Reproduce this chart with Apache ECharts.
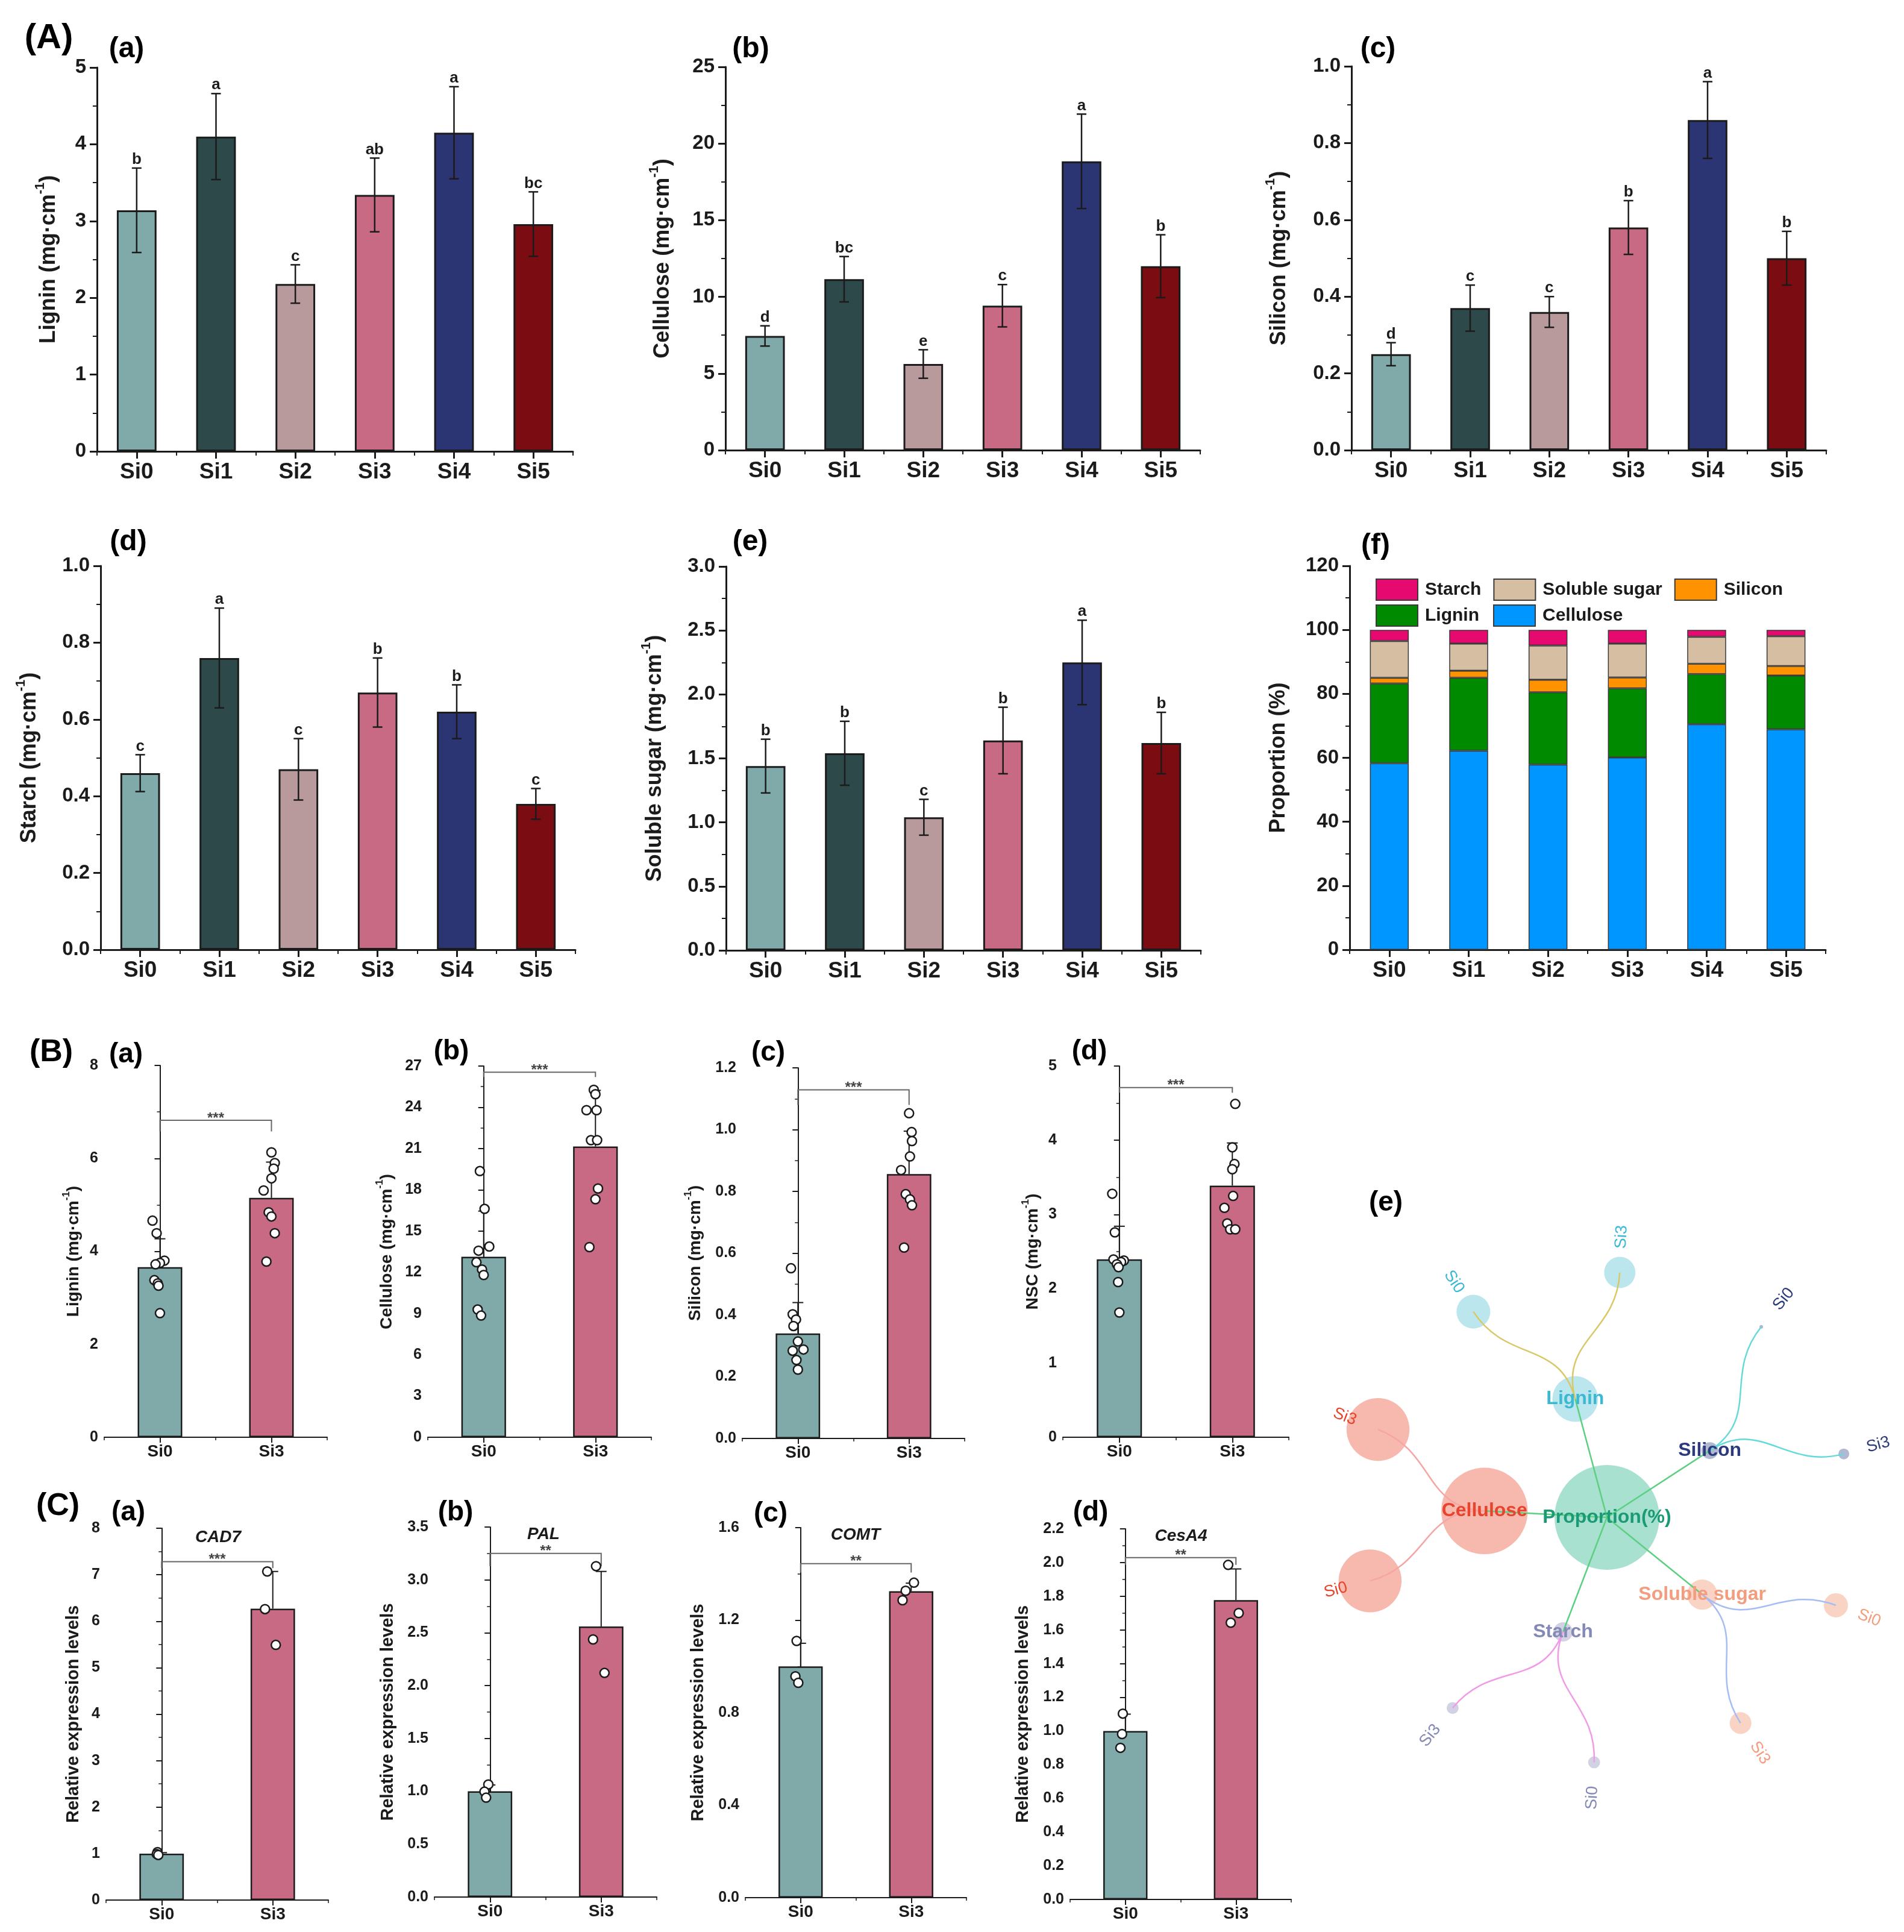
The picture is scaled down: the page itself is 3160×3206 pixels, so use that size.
<!DOCTYPE html>
<html>
<head>
<meta charset="utf-8">
<script src="https://cdn.jsdelivr.net/npm/echarts@6/dist/echarts.min.js"></script>
<style>html,body{margin:0;padding:0;background:#fff}#c{width:3160px;height:3206px}</style>
</head>
<body>
<div id="c"></div>
<script>
// ================= DATA =================
const groupsA = ['Si0', 'Si1', 'Si2', 'Si3', 'Si4', 'Si5'];
const ligninMean = [3.14, 4.10, 2.18, 3.34, 4.15, 2.96];
const ligninSD = [0.55, 0.56, 0.25, 0.48, 0.60, 0.42];
const ligninSig = ['b', 'a', 'c', 'ab', 'a', 'bc'];
const celluloseMean = [7.45, 11.15, 5.62, 9.42, 18.84, 12.0];
const celluloseSD = [0.66, 1.48, 0.93, 1.38, 3.08, 2.05];
const celluloseSig = ['d', 'bc', 'e', 'c', 'a', 'b'];
const siliconMean = [0.25, 0.37, 0.36, 0.58, 0.86, 0.50];
const siliconSD = [0.03, 0.06, 0.04, 0.07, 0.10, 0.07];
const siliconSig = ['d', 'c', 'c', 'b', 'a', 'b'];
const starchMean = [0.46, 0.76, 0.47, 0.67, 0.62, 0.38];
const starchSD = [0.048, 0.13, 0.08, 0.09, 0.07, 0.04];
const starchSig = ['c', 'a', 'c', 'b', 'b', 'c'];
const sugarMean = [1.44, 1.54, 1.04, 1.64, 2.25, 1.62];
const sugarSD = [0.21, 0.25, 0.14, 0.26, 0.33, 0.24];
const sugarSig = ['b', 'b', 'c', 'b', 'a', 'b'];

const propCellulose = [58.3, 62.2, 57.9, 60.1, 70.5, 68.9];
const propLignin = [24.9, 22.8, 22.6, 21.6, 15.7, 16.8];
const propSilicon = [1.8, 2.2, 3.9, 3.4, 3.2, 3.0];
const propSugar = [11.5, 8.5, 10.7, 10.6, 8.4, 9.3];
const propStarch = [3.5, 4.3, 4.9, 4.3, 2.2, 2.0];

const groupsB = ['Si0', 'Si3'];
const bLigninMean = [3.66, 5.15];
const bLigninSD = [0.61, 0.77];
const bLigninSi0 = [4.66, 4.39, 3.80, 3.75, 3.72, 3.38, 3.31, 3.26, 2.67];
const bLigninSi3 = [6.13, 5.90, 5.78, 5.57, 5.31, 4.84, 4.75, 4.39, 3.78];
const bLigninJit0 = [-0.067, -0.03, 0.04, 0, -0.04, -0.05, -0.02, -0.013, 0];
const bLigninJit3 = [0, 0.03, 0.02, 0, -0.07, -0.025, 0, 0.03, -0.045];
const bCelluloseMean = [13.13, 21.15];
const bCelluloseSD = [3.32, 4.08];
const bCelluloseSi0 = [19.36, 16.61, 13.87, 13.57, 12.73, 12.2, 11.8, 9.29, 8.85];
const bCelluloseSi3 = [25.27, 24.95, 23.79, 23.79, 21.61, 21.61, 18.09, 17.31, 13.83];
const bCelluloseJit0 = [-0.034, 0.008, 0.05, -0.046, -0.065, -0.015, 0, -0.054, -0.023];
const bCelluloseJit3 = [-0.015, 0, -0.08, 0.01, -0.04, 0.015, 0.023, 0, -0.054];
const bSiliconMean = [0.340, 0.856];
const bSiliconSD = [0.10, 0.139];
const bSiliconSi0 = [0.551, 0.402, 0.385, 0.364, 0.314, 0.288, 0.284, 0.254, 0.223];
const bSiliconSi3 = [1.053, 0.992, 0.963, 0.913, 0.869, 0.791, 0.774, 0.755, 0.618];
const bSiliconJit0 = [-0.062, -0.047, -0.017, -0.04, 0, 0.05, -0.047, -0.013, 0];
const bSiliconJit3 = [0, 0.023, 0.026, 0.008, -0.072, -0.03, 0.008, 0.026, -0.045];
const bNSCMean = [2.396, 3.389];
const bNSCSD = [0.446, 0.575];
const bNSCSi0 = [3.28, 2.76, 2.395, 2.38, 2.36, 2.33, 2.29, 2.09, 1.68];
const bNSCSi3 = [4.49, 3.905, 3.68, 3.61, 3.25, 3.09, 2.88, 2.80, 2.80];
const bNSCJit0 = [-0.063, -0.04, -0.052, 0.04, 0.015, -0.022, -0.007, -0.011, 0];
const bNSCJit3 = [0.026, 0, 0.019, 0, 0.007, -0.07, -0.045, -0.019, 0.026];

const cCAD7Mean = [1.00, 6.27];
const cCAD7SD = [0.02, 0.80];
const cCAD7Si0 = [1.03, 0.99, 0.97];
const cCAD7Si3 = [7.07, 6.26, 5.49];
const cCAD7Jit0 = [-0.037, -0.044, -0.03];
const cCAD7Jit3 = [-0.05, -0.07, 0.027];
const cPALMean = [1.00, 2.56];
const cPALSD = [0.06, 0.52];
const cPALSi0 = [1.065, 0.997, 0.94];
const cPALSi3 = [3.13, 2.437, 2.12];
const cPALJit0 = [-0.015, -0.05, -0.035];
const cPALJit3 = [-0.046, -0.073, 0.03];
const cCOMTMean = [1.00, 1.325];
const cCOMTSD = [0.10, 0.035];
const cCOMTSi0 = [1.11, 0.957, 0.929];
const cCOMTSi3 = [1.362, 1.327, 1.286];
const cCOMTJit0 = [-0.036, -0.047, -0.021];
const cCOMTJit3 = [0.025, -0.05, -0.078];
const cCesA4Mean = [1.00, 1.777];
const cCesA4SD = [0.10, 0.185];
const cCesA4Si0 = [1.103, 0.982, 0.90];
const cCesA4Si3 = [1.986, 1.70, 1.643];
const cCesA4Jit0 = [-0.023, -0.03, -0.045];
const cCesA4Jit3 = [-0.07, 0.025, -0.047];

const sigB = ['***', '***', '***', '***'];
const sigC = ['***', '**', '**', '**'];
const bracketB = [[6.82, 6.58], [26.55, 26.2], [1.129, 1.08], [4.71, 4.64]];
const bracketC = [[7.28, 7.14], [3.25, 3.13], [1.444, 1.406], [2.029, 1.986]];
const geneNames = ['CAD7', 'PAL', 'COMT', 'CesA4'];

const netRootName = 'Proportion(%)';
const netRootSize = 100;
const netBranchNames = ['Lignin', 'Silicon', 'Soluble sugar', 'Starch', 'Cellulose'];
const netBranchSize = [19, 2.6, 8.3, 3.4, 68];
const netLeafNames = ['Si0', 'Si3'];
const netLeafSize = [[10.4, 8.9], [0.12, 1.07], [5.3, 4.3], [1.3, 1.3], [36, 36]];

// ================= STYLE =================
const FONT = "'Liberation Sans', Arial, Helvetica, sans-serif";
const INK = '#1b1b1b';
const barColorsA = ['#80a9a9', '#2e4949', '#b89a9c', '#c86a84', '#2c3574', '#7b0c12'];
const barColorsB = ['#80a9a9', '#c86a84'];
const propColors = { 'Cellulose': '#0096ff', 'Lignin': '#008a00', 'Silicon': '#ff9200', 'Soluble sugar': '#d5bea2', 'Starch': '#e6096f' };
const netRootFill = '#93d9c4', netRootText = '#1a9a75', netRootEdge = '#5ccf80';
const netFill = ['#abe0e8', '#9ea6c6', '#f8c8b4', '#c6c7dd', '#f5a89a'];
const netText = ['#3cb8d2', '#2b3a7a', '#f39c7e', '#8489b6', '#e8432d'];
const netEdge = ['#d9c867', '#66d9d9', '#a6bcf4', '#f19ae6', '#f6a5a5'];

const styA = { lw: 3, tick: 12, minor: 7, valFs: 33, catFs: 37, valMargin: 18, catMargin: 16 };
const styB = { lw: 2, tick: 9, minor: 5, valFs: 25, catFs: 28, valMargin: 10, catMargin: 10 };

const option = {
  animation: false, backgroundColor: '#ffffff', textStyle: { fontFamily: FONT },
  grid: [], xAxis: [], yAxis: [], series: [], legend: [], graphic: []
};

function richName(base, fs) {
  const sup = Math.round(fs * 0.62);
  return {
    name: '{t|' + base + ' (mg·cm}{s|-1}{t|)}',
    textStyle: { rich: {
      t: { fontSize: fs, fontWeight: 'bold', fontFamily: FONT, color: INK, lineHeight: Math.round(fs * 1.2), verticalAlign: 'bottom' },
      s: { fontSize: sup, fontWeight: 'bold', fontFamily: FONT, color: INK, lineHeight: sup, verticalAlign: 'top' }
    } }
  };
}
function plainName(text, fs) {
  return { name: text, textStyle: { fontSize: fs, fontWeight: 'bold', fontFamily: FONT, color: INK } };
}
function addGrid(r) {
  option.grid.push({ left: r[0], top: r[1], width: r[2], height: r[3], containLabel: false, outerBoundsMode: 'none' });
  return option.grid.length - 1;
}
function addCatX(gi, cats, s) {
  option.xAxis.push({
    type: 'category', gridIndex: gi, data: cats, boundaryGap: true, position: 'bottom',
    axisLine: { show: true, lineStyle: { color: INK, width: s.lw } },
    axisTick: { show: true, alignWithLabel: true, length: s.tick, lineStyle: { color: INK, width: s.lw } },
    axisLabel: { show: true, interval: 0, fontSize: s.catFs, fontWeight: 'bold', color: INK, margin: s.catMargin, fontFamily: FONT },
    splitLine: { show: false }
  });
  // short boundary ticks between categories
  option.xAxis.push({
    type: 'category', gridIndex: gi, data: cats, boundaryGap: true, position: 'bottom', offset: 0,
    axisLine: { show: false }, axisLabel: { show: false }, splitLine: { show: false },
    axisTick: { show: true, alignWithLabel: false, length: s.minor, lineStyle: { color: INK, width: Math.max(1.5, s.lw - 1) } }
  });
  return option.xAxis.length - 2;
}
function addValX(gi) {
  option.xAxis.push({ type: 'value', gridIndex: gi, min: -0.5, max: 1.5, show: false });
  return option.xAxis.length - 1;
}
function addY(gi, c, s, nm) {
  option.yAxis.push({
    type: 'value', gridIndex: gi, min: 0, max: c.max, interval: c.interval,
    axisLine: { show: true, lineStyle: { color: INK, width: s.lw } },
    axisTick: { show: true, length: s.tick, lineStyle: { color: INK, width: s.lw } },
    minorTick: { show: true, splitNumber: 2, length: s.minor, lineStyle: { color: INK, width: Math.max(1.5, s.lw - 1) } },
    splitLine: { show: false }, minorSplitLine: { show: false },
    axisLabel: { show: true, fontSize: s.valFs, fontWeight: 'bold', color: INK, margin: s.valMargin, showMinLabel: true, showMaxLabel: true, fontFamily: FONT,
      formatter: function (v) { return Number(v).toFixed(c.dec); } },
    name: nm.name, nameLocation: 'middle', nameGap: c.gap, nameRotate: 90, nameMoveOverlap: false,
    nameTextStyle: nm.textStyle
  });
  return option.yAxis.length - 1;
}
function errorBarItem(sig, both, capHalf, lw, sigFont) {
  return function (params, api) {
    const x = api.value(0), m = api.value(1), s = api.value(2);
    const pT = api.coord([x, m + s]);
    const pB = api.coord([x, both ? m - s : m]);
    const ch = [
      { type: 'line', shape: { x1: pT[0], y1: pT[1], x2: pB[0], y2: pB[1] }, style: { stroke: INK, lineWidth: lw } },
      { type: 'line', shape: { x1: pT[0] - capHalf, y1: pT[1], x2: pT[0] + capHalf, y2: pT[1] }, style: { stroke: INK, lineWidth: lw } }
    ];
    if (both) ch.push({ type: 'line', shape: { x1: pB[0] - capHalf, y1: pB[1], x2: pB[0] + capHalf, y2: pB[1] }, style: { stroke: INK, lineWidth: lw } });
    if (sig) ch.push({ type: 'text', x: pT[0], y: pT[1] - 1, style: { text: sig[params.dataIndex], font: sigFont, fill: INK, align: 'center', verticalAlign: 'bottom', textAlign: 'center', textVerticalAlign: 'bottom' } });
    return { type: 'group', children: ch };
  };
}
function bracketItem(txt) {
  return function (params, api) {
    const x1 = api.value(0), x2 = api.value(1), yt = api.value(2), yd = api.value(3);
    const a = api.coord([x1, yd]), b = api.coord([x1, yt]), c = api.coord([x2, yt]), d = api.coord([x2, yd]);
    return { type: 'group', children: [
      { type: 'polyline', shape: { points: [a, b, c, d] }, style: { stroke: '#666', lineWidth: 2, fill: null } },
      { type: 'text', x: (b[0] + c[0]) / 2, y: b[1] - 3, style: { text: txt, font: 'bold 24px ' + FONT, fill: '#444', align: 'center', verticalAlign: 'middle', textAlign: 'center', textVerticalAlign: 'middle' } }
    ] };
  };
}

// ================= ROW A : six-group bars =================
const panelsA = [
  { rect: [161, 112, 790, 637], max: 5, interval: 1, dec: 0, gap: 62, title: 'Lignin', mean: ligninMean, sd: ligninSD, sig: ligninSig },
  { rect: [1204, 111, 788, 636], max: 25, interval: 5, dec: 0, gap: 86, title: 'Cellulose', mean: celluloseMean, sd: celluloseSD, sig: celluloseSig },
  { rect: [2243, 110, 788, 637], max: 1, interval: 0.2, dec: 1, gap: 102, title: 'Silicon', mean: siliconMean, sd: siliconSD, sig: siliconSig },
  { rect: [167, 939, 788, 637], max: 1, interval: 0.2, dec: 1, gap: 100, title: 'Starch', mean: starchMean, sd: starchSD, sig: starchSig },
  { rect: [1205, 940, 788, 637], max: 3, interval: 0.5, dec: 1, gap: 100, title: 'Soluble sugar', mean: sugarMean, sd: sugarSD, sig: sugarSig }
];
panelsA.forEach(function (p) {
  const gi = addGrid(p.rect);
  const xi = addCatX(gi, groupsA, styA);
  const yi = addY(gi, p, styA, richName(p.title, 36));
  option.series.push({
    type: 'bar', xAxisIndex: xi, yAxisIndex: yi, barWidth: '50%', z: 2, silent: true,
    itemStyle: { borderColor: INK, borderWidth: 3 },
    data: p.mean.map(function (v, i) { return { value: v, itemStyle: { color: barColorsA[i] } }; })
  });
  option.series.push({
    type: 'custom', xAxisIndex: xi, yAxisIndex: yi, z: 5, silent: true,
    data: p.mean.map(function (m, i) { return [i, m, p.sd[i]]; }),
    renderItem: errorBarItem(p.sig, true, 8, 2.5, 'bold 26px ' + FONT)
  });
});

// (f) stacked proportions
(function () {
  const gi = addGrid([2240, 939, 790, 637]);
  const xi = addCatX(gi, groupsA, styA);
  const yi = addY(gi, { max: 120, interval: 20, dec: 0, gap: 100 }, styA, plainName('Proportion (%)', 36));
  const stacks = [['Cellulose', propCellulose], ['Lignin', propLignin], ['Silicon', propSilicon], ['Soluble sugar', propSugar], ['Starch', propStarch]];
  stacks.forEach(function (s) {
    option.series.push({
      type: 'bar', name: s[0], stack: 'prop', xAxisIndex: xi, yAxisIndex: yi, barWidth: '49%', silent: true,
      itemStyle: { color: propColors[s[0]], borderColor: '#3a3a3a', borderWidth: 1.5 },
      data: s[1]
    });
  });
  const lg = { itemWidth: 69, itemHeight: 35, icon: 'rect', selectedMode: false,
    textStyle: { fontSize: 30, fontWeight: 'bold', color: INK, fontFamily: FONT, padding: [0, 0, 0, 7] } };
  option.legend.push(Object.assign({ left: 2278, top: 955, itemGap: 20, data: ['Starch', 'Soluble sugar', 'Silicon'] }, lg));
  option.legend.push(Object.assign({ left: 2278, top: 998, itemGap: 23, data: ['Lignin', 'Cellulose'] }, lg));
})();

// ================= ROWS B, C : two-group bars with points =================
const panelsBC = [
  { rect: [173, 1768, 370, 617], max: 8, interval: 2, dec: 0, gap: 37, nm: richName('Lignin', 28), mean: bLigninMean, sd: bLigninSD, p0: bLigninSi0, p3: bLigninSi3, j0: bLigninJit0, j3: bLigninJit3, br: bracketB[0], sig: sigB[0] },
  { rect: [710, 1769, 371, 616], max: 27, interval: 3, dec: 0, gap: 54, nm: richName('Cellulose', 28), mean: bCelluloseMean, sd: bCelluloseSD, p0: bCelluloseSi0, p3: bCelluloseSi3, j0: bCelluloseJit0, j3: bCelluloseJit3, br: bracketB[1], sig: sigB[1] },
  { rect: [1232, 1772, 369, 615], max: 1.2, interval: 0.2, dec: 1, gap: 64, nm: richName('Silicon', 28), mean: bSiliconMean, sd: bSiliconSD, p0: bSiliconSi0, p3: bSiliconSi3, j0: bSiliconJit0, j3: bSiliconJit3, br: bracketB[2], sig: sigB[2] },
  { rect: [1764, 1769, 375, 616], max: 5, interval: 1, dec: 0, gap: 36, nm: richName('NSC', 28), mean: bNSCMean, sd: bNSCSD, p0: bNSCSi0, p3: bNSCSi3, j0: bNSCJit0, j3: bNSCJit3, br: bracketB[3], sig: sigB[3] },
  { rect: [176, 2536, 369, 617], max: 8, interval: 1, dec: 0, gap: 40, nm: plainName('Relative expression levels', 29), mean: cCAD7Mean, sd: cCAD7SD, p0: cCAD7Si0, p3: cCAD7Si3, j0: cCAD7Jit0, j3: cCAD7Jit3, br: bracketC[0], sig: sigC[0] },
  { rect: [721, 2534, 369, 614], max: 3.5, interval: 0.5, dec: 1, gap: 63, nm: plainName('Relative expression levels', 29), mean: cPALMean, sd: cPALSD, p0: cPALSi0, p3: cPALSi3, j0: cPALJit0, j3: cPALJit3, br: bracketC[1], sig: sigC[1] },
  { rect: [1237, 2535, 367, 614], max: 1.6, interval: 0.4, dec: 1, gap: 64, nm: plainName('Relative expression levels', 29), mean: cCOMTMean, sd: cCOMTSD, p0: cCOMTSi0, p3: cCOMTSi3, j0: cCOMTJit0, j3: cCOMTJit3, br: bracketC[2], sig: sigC[2] },
  { rect: [1776, 2537, 367, 615], max: 2.2, interval: 0.2, dec: 1, gap: 64, nm: plainName('Relative expression levels', 29), mean: cCesA4Mean, sd: cCesA4SD, p0: cCesA4Si0, p3: cCesA4Si3, j0: cCesA4Jit0, j3: cCesA4Jit3, br: bracketC[3], sig: sigC[3] }
];
panelsBC.forEach(function (p) {
  const gi = addGrid(p.rect);
  const xi = addCatX(gi, groupsB, styB);
  const xv = addValX(gi);
  const yi = addY(gi, p, styB, p.nm);
  option.series.push({
    type: 'bar', xAxisIndex: xi, yAxisIndex: yi, barWidth: '40%', z: 2, silent: true,
    itemStyle: { borderColor: INK, borderWidth: 2.5 },
    data: p.mean.map(function (v, i) { return { value: v, itemStyle: { color: barColorsB[i] } }; })
  });
  option.series.push({
    type: 'custom', xAxisIndex: xi, yAxisIndex: yi, z: 4, silent: true,
    data: p.mean.map(function (m, i) { return [i, m, p.sd[i]]; }),
    renderItem: errorBarItem(null, false, 9, 2, '')
  });
  const pts = p.p0.map(function (v, k) { return [0 + p.j0[k], v]; })
    .concat(p.p3.map(function (v, k) { return [1 + p.j3[k], v]; }));
  option.series.push({
    type: 'scatter', xAxisIndex: xv, yAxisIndex: yi, z: 6, silent: true, symbol: 'circle', symbolSize: 15,
    itemStyle: { color: '#ffffff', borderColor: INK, borderWidth: 2.5, opacity: 1 },
    data: pts
  });
  option.series.push({
    type: 'custom', xAxisIndex: xv, yAxisIndex: yi, z: 5, silent: true,
    data: [[0, 1, p.br[0], p.br[1]]],
    renderItem: bracketItem(p.sig)
  });
});

// ================= NETWORK (e) in polar coordinates =================
option.polar = { center: [2667, 2518], radius: 407 };
option.angleAxis = { type: 'value', min: 0, max: 10, startAngle: 123, clockwise: true, show: false };
option.radiusAxis = { type: 'value', min: 0, max: 2, show: false };
function bubble(v) { return 17.4 * Math.sqrt(v); }
const netNodes = [], netEdges = [], netLabels = [];
netNodes.push({ value: [0, 0], symbolSize: bubble(netRootSize), itemStyle: { color: netRootFill } });
netLabels.push([0, 0, 0, -1]);
let leafPos = 0;
netBranchNames.forEach(function (nm, b) {
  const leafAng = netLeafSize[b].map(function () { return leafPos++; });
  const ab = leafAng.reduce(function (s, v) { return s + v; }, 0) / leafAng.length;
  netNodes.push({ value: [1, ab], symbolSize: bubble(netBranchSize[b]), itemStyle: { color: netFill[b] } });
  netEdges.push([0, ab, 1, ab, -1]);
  netLabels.push([1, ab, 1, b]);
  leafAng.forEach(function (a, k) {
    netNodes.push({ value: [2, a], symbolSize: bubble(netLeafSize[b][k]), itemStyle: { color: netFill[b] } });
    netEdges.push([1, ab, 2, a, b]);
    netLabels.push([2, a, 2, b * 2 + k]);
  });
});
option.series.push({
  type: 'scatter', coordinateSystem: 'polar', polarIndex: 0, z: 2, silent: true, symbol: 'circle',
  data: netNodes
});
option.series.push({
  type: 'custom', coordinateSystem: 'polar', polarIndex: 0, z: 3, silent: true,
  data: netEdges,
  renderItem: function (params, api) {
    const r1 = api.value(0), a1 = api.value(1), r2 = api.value(2), a2 = api.value(3), kind = api.value(4);
    const p1 = api.coord([r1, a1]), p2 = api.coord([r2, a2]);
    if (kind < 0) {
      return { type: 'line', shape: { x1: p1[0], y1: p1[1], x2: p2[0], y2: p2[1] }, style: { stroke: netRootEdge, lineWidth: 2.5 } };
    }
    const rm = (r1 + r2) / 2;
    const c1 = api.coord([rm, a1]), c2 = api.coord([rm, a2]);
    return { type: 'bezierCurve', shape: { x1: p1[0], y1: p1[1], x2: p2[0], y2: p2[1], cpx1: c1[0], cpy1: c1[1], cpx2: c2[0], cpy2: c2[1] },
      style: { stroke: netEdge[kind], lineWidth: 2.5, fill: null } };
  }
});
option.series.push({
  type: 'custom', coordinateSystem: 'polar', polarIndex: 0, z: 4, silent: true,
  data: netLabels,
  renderItem: function (params, api) {
    const r = api.value(0), a = api.value(1), type = api.value(2), idx = api.value(3);
    const p = api.coord([r, a]);
    if (type === 0) {
      return { type: 'text', x: p[0], y: p[1], style: { text: netRootName, font: 'bold 32px ' + FONT, fill: netRootText, align: 'center', verticalAlign: 'middle', textAlign: 'center', textVerticalAlign: 'middle' } };
    }
    if (type === 1) {
      return { type: 'text', x: p[0], y: p[1], style: { text: netBranchNames[idx], font: 'bold 32px ' + FONT, fill: netText[idx], align: 'center', verticalAlign: 'middle', textAlign: 'center', textVerticalAlign: 'middle' } };
    }
    const b = Math.floor(idx / 2), k = idx % 2;
    const lp = api.coord([2.29, a]);
    const cx = params.coordSys.cx, cy = params.coordSys.cy;
    const dx = p[0] - cx, dy = p[1] - cy;
    let rot = Math.atan2(-dy, dx);
    if (dx < -0.5) rot += Math.PI;
    return { type: 'text', x: lp[0], y: lp[1], rotation: rot,
      style: { text: netLeafNames[k], font: '27px ' + FONT, fill: netText[b], align: 'center', verticalAlign: 'middle', textAlign: 'center', textVerticalAlign: 'middle' } };
  }
});

// ================= PANEL TAGS & GENE NAMES =================
const panelTags = [
  ['(A)', 81, 64, 58], ['(a)', 210, 82, 48], ['(b)', 1246, 82, 48], ['(c)', 2287, 82, 48],
  ['(d)', 213, 900, 48], ['(e)', 1245, 900, 48], ['(f)', 2283, 906, 48],
  ['(B)', 85, 1747, 52], ['(a)', 209, 1750, 46], ['(b)', 749, 1745, 46], ['(c)', 1275, 1747, 46], ['(d)', 1808, 1745, 46],
  ['(e)', 2300, 1996, 46],
  ['(C)', 96, 2500, 52], ['(a)', 213, 2510, 46], ['(b)', 756, 2510, 46], ['(c)', 1279, 2512, 46], ['(d)', 1810, 2510, 46]
];
panelTags.forEach(function (t) {
  option.graphic.push({ type: 'text', x: t[1], y: t[2], z: 100,
    style: { text: t[0], font: 'bold ' + t[3] + 'px ' + FONT, fill: '#000', align: 'center', verticalAlign: 'middle', textAlign: 'center', textVerticalAlign: 'middle' } });
});
const genePos = [[362, 2551], [902, 2546], [1420, 2547], [1960, 2549]];
geneNames.forEach(function (g, i) {
  option.graphic.push({ type: 'text', x: genePos[i][0], y: genePos[i][1], z: 100,
    style: { text: g, font: 'italic bold 28px ' + FONT, fill: INK, align: 'center', verticalAlign: 'middle', textAlign: 'center', textVerticalAlign: 'middle' } });
});

const chart = echarts.init(document.getElementById('c'), null, { renderer: 'canvas', width: 3160, height: 3206 });
chart.setOption(option);
</script>
</body>
</html>
